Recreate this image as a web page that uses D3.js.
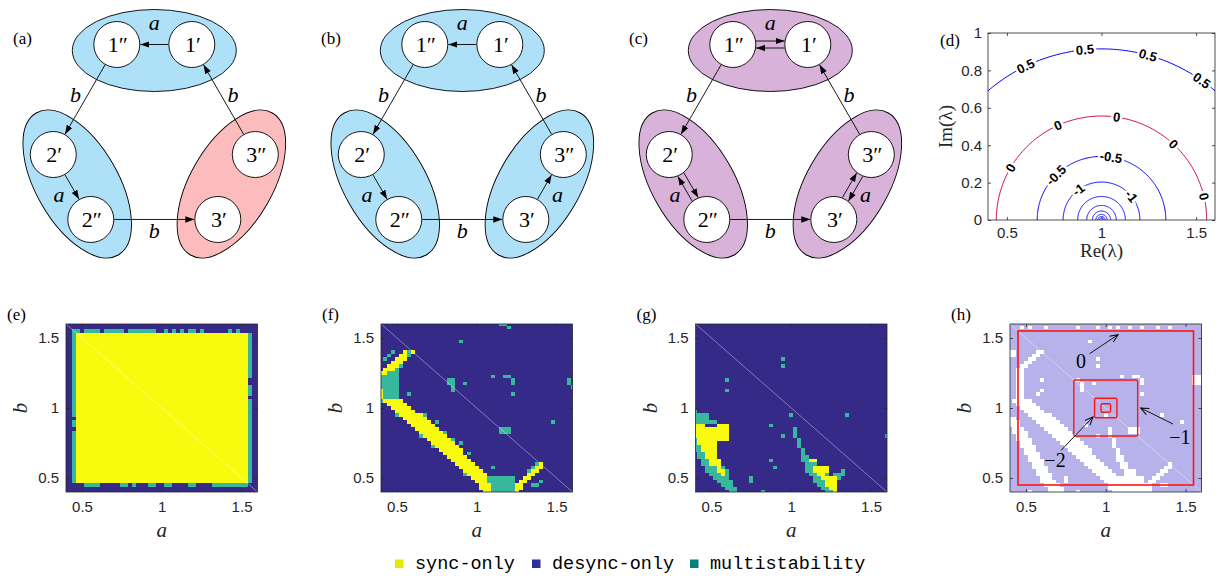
<!DOCTYPE html>
<html>
<head>
<meta charset="utf-8">
<script src="https://cdn.jsdelivr.net/npm/d3@7"></script>
<style>
  body { margin: 0; background: #fff; }
  svg { display: block; }
  .serif { font-family: "Liberation Serif", "Times New Roman", serif; }
  .tick text { font-family: "Liberation Sans", Arial, sans-serif; font-size: 15px; fill: #262626; }
  .tick line { stroke: #262626; stroke-width: 0.8; }
</style>
</head>
<body>
<svg id="fig" width="1219" height="576"></svg>
<script>
// ---------- data ----------
const panelLetters = ['(a)', '(b)', '(c)', '(d)', '(e)', '(f)', '(g)', '(h)'];

// network diagrams: cluster colours per panel (cluster 1 top, 2 lower-left, 3 lower-right)
const clusterFill = [
  ['#aee0f8', '#aee0f8', '#fcbcbd'],
  ['#aee0f8', '#aee0f8', '#aee0f8'],
  ['#d8b2d8', '#d8b2d8', '#d8b2d8']
];
const nodeIds    = ['1pp', '1p', '2pp', '2p', '3pp', '3p'];
const nodeLabels = ['1\u2033', '1\u2032', '2\u2033', '2\u2032', '3\u2033', '3\u2032'];
const nodeCluster = [0, 0, 1, 1, 2, 2];
const nodeSide    = [-1, 1, -1, 1, -1, 1];
const interLinks = [['1pp', '2p'], ['2pp', '3p'], ['3pp', '1p']];
const intraLinks = [
  [['1p', '1pp'], ['2p', '2pp']],
  [['1p', '1pp'], ['2p', '2pp'], ['3p', '3pp']],
  [['1pp', '1p'], ['1p', '1pp'], ['2pp', '2p'], ['2p', '2pp'], ['3pp', '3p'], ['3p', '3pp']]
];

// panel (d): contour levels and the radius of each (circles round lambda = 1)
const contourLevels = [0.5, 0, -0.5, -1, -1.5, -2, -2.5, -3, -3.5, -4];
const contourRadii  = [0.915, 0.556, 0.34, 0.203, 0.126, 0.078, 0.048, 0.03, 0.019, 0.011];
const contourLabelLevels = [0.5, 0.5, 0.5, 0.5, 0, 0, 0, 0, 0, -0.5, -0.5, -1, -1];
const contourLabelAngles = [116, 95.5, 74.4, 54.6, 149.9, 114.5, 81.7, 46.8, 13, 135, 81.5, 127, 38.7];
const dTicksX = [0.5, 1, 1.5];
const dTicksY = [0, 0.2, 0.4, 0.6, 0.8, 1];

// heat maps: grid a,b = 0.4 .. 1.6 step 0.025 ; block = [k0, k1, m0, m1, state]
// k = column (a = 0.4 + 0.025 k), m = row from top (b = 1.6 - 0.025 m)
const heatTicks = [0.5, 1, 1.5];
const eBlocks = [
  [2, 46, 2, 46, 'C'], [3, 45, 3, 45, 'Y'],
  [4, 4, 2, 2, 'D'], [9, 9, 2, 2, 'D'], [15, 15, 2, 2, 'D'], [23, 24, 2, 2, 'D'], [26, 26, 2, 2, 'D'],
  [28, 28, 2, 2, 'D'], [30, 30, 2, 2, 'D'], [33, 33, 2, 2, 'D'], [35, 40, 2, 2, 'D'], [42, 42, 2, 2, 'D'],
  [44, 46, 2, 2, 'D'],
  [2, 4, 46, 46, 'D'], [9, 13, 46, 46, 'D'], [16, 16, 46, 46, 'D'], [18, 20, 46, 46, 'D'], [23, 24, 46, 46, 'D'],
  [27, 30, 46, 46, 'D'], [33, 36, 46, 46, 'D'], [46, 46, 46, 46, 'D'],
  [2, 2, 27, 27, 'D'], [2, 2, 30, 30, 'D'],
  [46, 46, 16, 17, 'D'], [46, 46, 21, 21, 'D']
];
// main diagonal sync band of (f), rows [m, k0, k1]
const fStripe = [
  [22, 1, 5], [23, 2, 6], [24, 3, 7], [25, 4, 8], [26, 5, 10], [27, 6, 11], [28, 7, 12], [29, 8, 13],
  [30, 9, 14], [31, 10, 15], [32, 11, 16], [33, 12, 17], [34, 13, 18], [35, 14, 19], [36, 15, 20],
  [37, 16, 20], [38, 17, 21], [39, 18, 22], [40, 19, 23], [41, 20, 24], [42, 21, 25], [43, 22, 26],
  [44, 23, 26], [45, 24, 26], [46, 25, 27], [47, 25, 27], [48, 26, 27]
];
const fBlocks = [
  [30, 31, 0, 0, 'C'], [32, 32, 1, 1, 'C'], [20, 20, 5, 5, 'C'],
  [3, 3, 8, 8, 'C'], [6, 6, 8, 8, 'Y'], [7, 7, 8, 8, 'C'], [8, 8, 8, 8, 'Y'],
  [2, 2, 9, 9, 'C'], [5, 6, 9, 9, 'Y'], [7, 7, 9, 9, 'C'],
  [1, 1, 10, 10, 'C'], [4, 6, 10, 10, 'Y'],
  [3, 5, 11, 11, 'Y'],
  [2, 4, 12, 12, 'Y'], [5, 5, 12, 12, 'C'],
  [1, 3, 13, 13, 'Y'], [4, 4, 13, 13, 'C'],
  [0, 1, 14, 14, 'Y'], [2, 4, 14, 14, 'C'],
  [0, 4, 15, 18, 'C'], [0, 0, 19, 20, 'Y'], [1, 4, 19, 20, 'C'],
  [0, 0, 21, 21, 'Y'], [1, 4, 21, 21, 'C'], [0, 0, 22, 22, 'C'],
  [28, 28, 15, 15, 'C'], [31, 32, 15, 15, 'C'], [17, 18, 16, 17, 'C'], [21, 21, 17, 17, 'C'],
  [33, 33, 16, 17, 'C'], [47, 47, 16, 17, 'C'], [48, 48, 18, 18, 'C'], [18, 18, 18, 19, 'C'],
  [7, 7, 20, 20, 'C'], [33, 33, 20, 20, 'C'], [43, 43, 28, 28, 'C'], [30, 32, 30, 31, 'C'],
  [4, 4, 26, 26, 'C'], [11, 11, 26, 26, 'C'], [14, 14, 28, 28, 'C'], [16, 16, 31, 31, 'C'],
  [10, 10, 32, 32, 'C'], [18, 18, 33, 33, 'C'], [20, 20, 34, 34, 'C'], [13, 13, 35, 35, 'C'],
  [22, 22, 37, 37, 'C'], [21, 21, 43, 43, 'C'], [28, 28, 41, 41, 'C'],
  [27, 33, 44, 48, 'C'],
  [39, 39, 40, 40, 'C'], [40, 40, 40, 40, 'Y'], [38, 38, 41, 41, 'C'], [39, 40, 41, 41, 'Y'],
  [37, 37, 42, 42, 'C'], [38, 39, 42, 42, 'Y'], [37, 38, 43, 43, 'Y'], [36, 37, 44, 44, 'Y'],
  [35, 36, 45, 45, 'Y'], [40, 40, 45, 45, 'C'], [34, 35, 46, 46, 'Y'], [38, 39, 46, 46, 'C'],
  [34, 35, 47, 47, 'Y'], [34, 34, 48, 48, 'Y']
];
const gBlocks = [
  [22, 22, 10, 10, 'C'], [22, 22, 12, 12, 'C'], [8, 8, 16, 16, 'C'], [8, 8, 19, 19, 'C'],
  [24, 24, 26, 26, 'C'], [38, 38, 26, 26, 'C'], [19, 19, 29, 29, 'C'], [22, 22, 32, 32, 'C'],
  [48, 48, 32, 32, 'C'], [19, 19, 39, 39, 'C'], [20, 20, 41, 41, 'C'], [14, 14, 44, 45, 'C'],
  [17, 17, 48, 48, 'C'],
  [0, 0, 25, 25, 'C'], [0, 3, 26, 27, 'C'], [0, 5, 28, 28, 'C'],
  [0, 2, 29, 29, 'Y'], [6, 8, 29, 29, 'Y'], [0, 8, 30, 32, 'Y'],
  [0, 0, 33, 33, 'C'], [1, 8, 33, 33, 'Y'],
  [0, 0, 34, 34, 'C'], [1, 5, 34, 34, 'Y'],
  [0, 1, 35, 36, 'C'], [2, 5, 35, 36, 'Y'],
  [1, 2, 37, 38, 'C'], [3, 5, 37, 38, 'Y'],
  [2, 3, 39, 40, 'C'], [4, 6, 39, 40, 'Y'],
  [3, 5, 41, 41, 'C'], [6, 6, 41, 41, 'Y'], [7, 7, 41, 41, 'C'],
  [3, 5, 42, 42, 'C'], [6, 7, 42, 42, 'Y'], [8, 8, 42, 42, 'C'],
  [4, 6, 43, 43, 'C'], [7, 7, 43, 43, 'Y'], [8, 8, 43, 43, 'C'],
  [5, 8, 44, 44, 'C'], [6, 9, 45, 45, 'C'], [7, 9, 46, 46, 'C'], [8, 10, 47, 47, 'C'], [9, 10, 48, 48, 'C'],
  [25, 25, 30, 32, 'C'], [26, 26, 33, 35, 'C'], [27, 27, 36, 37, 'C'], [27, 28, 38, 38, 'C'],
  [27, 28, 39, 39, 'C'], [29, 30, 39, 39, 'Y'], [28, 30, 40, 40, 'C'],
  [28, 29, 41, 42, 'C'], [30, 33, 41, 42, 'Y'], [37, 37, 42, 43, 'C'],
  [29, 30, 43, 43, 'C'], [31, 32, 43, 43, 'Y'], [33, 33, 43, 43, 'C'], [35, 36, 43, 43, 'C'],
  [30, 31, 44, 44, 'C'], [32, 35, 44, 44, 'Y'], [36, 36, 44, 44, 'C'],
  [30, 32, 45, 45, 'C'], [33, 35, 45, 45, 'Y'],
  [31, 32, 46, 46, 'C'], [33, 35, 46, 46, 'Y'],
  [32, 33, 47, 47, 'C'], [34, 35, 47, 47, 'Y'],
  [33, 34, 48, 48, 'C'], [35, 35, 48, 48, 'Y']
];
// (h): white cells on lavender
const hLowerStripe = [
  [27, 0, 1], [28, 0, 2], [29, 0, 2], [30, 1, 3], [31, 1, 4], [32, 2, 4], [33, 2, 5], [34, 3, 5],
  [35, 3, 6], [36, 4, 6], [37, 4, 7], [38, 5, 7], [39, 5, 8], [40, 6, 8], [41, 6, 9], [42, 7, 9],
  [43, 7, 10], [44, 8, 10], [45, 8, 11], [46, 9, 12], [47, 10, 13], [48, 10, 13]
];
const hMiddleStripe = [
  [30, 25, 25], [31, 25, 25], [32, 25, 25], [33, 26, 26], [34, 26, 26], [35, 26, 26], [36, 27, 27],
  [37, 27, 27], [38, 27, 28], [39, 27, 28], [40, 28, 29], [41, 28, 29], [42, 29, 31], [43, 29, 31],
  [44, 30, 32], [45, 31, 33], [46, 32, 34], [47, 33, 35], [48, 34, 35]
];
const hBlocks = [
  [3, 3, 1, 1, 'W'], [5, 5, 1, 1, 'W'], [9, 9, 1, 1, 'W'], [17, 17, 1, 1, 'W'], [22, 22, 1, 1, 'W'],
  [25, 25, 1, 1, 'W'], [27, 27, 1, 1, 'W'], [30, 30, 1, 1, 'W'], [33, 33, 1, 1, 'W'], [37, 37, 1, 1, 'W'],
  [40, 40, 1, 1, 'W'],
  [20, 20, 5, 5, 'W'], [22, 22, 10, 10, 'W'], [22, 22, 12, 12, 'W'],
  [7, 8, 8, 8, 'W'], [6, 7, 9, 9, 'W'], [5, 6, 10, 10, 'W'], [4, 5, 11, 11, 'W'], [3, 4, 12, 12, 'W'],
  [2, 3, 13, 21, 'W'], [0, 1, 8, 9, 'W'],
  [8, 8, 16, 16, 'W'], [8, 8, 19, 19, 'W'], [7, 7, 20, 20, 'W'],
  [17, 17, 16, 16, 'W'], [18, 18, 17, 19, 'W'], [21, 21, 17, 17, 'W'], [28, 28, 15, 15, 'W'],
  [31, 32, 15, 15, 'W'], [33, 33, 16, 17, 'W'], [33, 33, 20, 20, 'W'], [46, 48, 15, 17, 'W'],
  [43, 43, 28, 28, 'W'], [30, 32, 30, 31, 'W'],
  [24, 24, 26, 26, 'W'], [38, 38, 26, 26, 'W'], [19, 19, 29, 29, 'W'], [22, 22, 32, 32, 'W'],
  [19, 19, 39, 39, 'W'], [20, 20, 41, 41, 'W'], [14, 14, 44, 45, 'W'],
  [27, 33, 44, 48, 'W'],
  [40, 40, 40, 40, 'W'], [39, 40, 41, 41, 'W'], [38, 39, 42, 42, 'W'], [37, 38, 43, 43, 'W'],
  [36, 37, 44, 44, 'W'], [35, 36, 45, 45, 'W'], [34, 35, 46, 48, 'W'], [38, 39, 46, 46, 'W'],
  [5, 5, 48, 48, 'W'], [17, 17, 48, 48, 'W']
];
const hBoxHalf = [0.55, 0.2, 0.07, 0.03];   // red squares round (1,1)
const hNoteText = ['0', '\u22121', '\u22122'];
const hNoteLabel = [[0.845, 1.336], [1.465, 0.793], [0.682, 0.629]];
const hNoteFrom  = [[0.899, 1.388], [1.421, 0.886], [0.721, 0.698]];
const hNoteTo    = [[1.077, 1.524], [1.219, 1.0], [0.92, 0.936]];

const legendNames  = ['sync-only', 'desync-only', 'multistability'];
const legendColors = ['#e8e800', '#2e2e9c', '#00827c'];

// ---------- layout ----------
const W = 1219, H = 576;
const svg = d3.select('#fig');
svg.append('rect').attr('width', W).attr('height', H).attr('fill', '#fff');

const defs = svg.append('defs');
defs.append('marker').attr('id', 'arr')
  .attr('viewBox', '0 -4 9 8').attr('refX', 9).attr('refY', 0)
  .attr('markerUnits', 'userSpaceOnUse').attr('markerWidth', 9).attr('markerHeight', 8)
  .attr('orient', 'auto')
  .append('path').attr('d', 'M0,-3.2L9,0L0,3.2Z').attr('fill', '#000');
defs.append('marker').attr('id', 'arrOpen')
  .attr('viewBox', '0 -5 10 10').attr('refX', 9).attr('refY', 0)
  .attr('markerUnits', 'userSpaceOnUse').attr('markerWidth', 10).attr('markerHeight', 10)
  .attr('orient', 'auto')
  .append('path').attr('d', 'M1,-3.5L9,0L1,3.5').attr('fill', 'none').attr('stroke', '#000').attr('stroke-width', 1);

// ---------- (a)-(c) network diagrams ----------
const diagShift = [0, 308, 616];
const diagC = [154.3, 139.5], diagR = 89;
const nodeR = 23, ellRx = 82, ellRy = 41, nodeAlong = 37.5, nodeOut = 6;
const clusterAngle = [0, 240, 120];

function clusterPoint(ci, lx, ly) {
  const phi = clusterAngle[ci] * Math.PI / 180;
  const cx = diagC[0] + diagR * Math.sin(phi), cy = diagC[1] - diagR * Math.cos(phi);
  return [cx + lx * Math.cos(phi) - ly * Math.sin(phi), cy + lx * Math.sin(phi) + ly * Math.cos(phi)];
}
const nodePos = {};
nodeIds.forEach((id, i) => { nodePos[id] = clusterPoint(nodeCluster[i], nodeSide[i] * nodeAlong, -nodeOut); });

function drawArrow(g, from, to, off) {
  const p = nodePos[from], q = nodePos[to];
  const len = Math.hypot(q[0] - p[0], q[1] - p[1]);
  const ux = (q[0] - p[0]) / len, uy = (q[1] - p[1]) / len;
  const px = uy * off, py = -ux * off;
  const cut = Math.sqrt(nodeR * nodeR - off * off) + 0.5;
  g.append('line')
    .attr('x1', p[0] + px + ux * cut).attr('y1', p[1] + py + uy * cut)
    .attr('x2', q[0] + px - ux * cut).attr('y2', q[1] + py - uy * cut)
    .attr('stroke', '#000').attr('stroke-width', 0.9)
    .attr('marker-end', 'url(#arr)');
}

diagShift.forEach((sx, pi) => {
  const g = svg.append('g').attr('transform', `translate(${sx},0)`);
  // clusters
  [0, 1, 2].forEach(ci => {
    const c = clusterPoint(ci, 0, 0);
    g.append('ellipse')
      .attr('transform', `translate(${c[0]},${c[1]}) rotate(${clusterAngle[ci]})`)
      .attr('rx', ellRx).attr('ry', ellRy)
      .attr('fill', clusterFill[pi][ci]).attr('stroke', '#000').attr('stroke-width', 0.9);
  });
  // links between clusters
  interLinks.forEach(l => drawArrow(g, l[0], l[1], 0));
  interLinks.forEach(l => {
    const p = nodePos[l[0]], q = nodePos[l[1]];
    const mx = (p[0] + q[0]) / 2, my = (p[1] + q[1]) / 2;
    const d = Math.hypot(mx - diagC[0], my - diagC[1]);
    g.append('text').attr('class', 'serif')
      .attr('x', mx + 11 * (mx - diagC[0]) / d).attr('y', my + 11 * (my - diagC[1]) / d)
      .attr('dy', '0.35em').attr('text-anchor', 'middle')
      .attr('font-style', 'italic').attr('font-size', 22).text('b');
  });
  // links inside clusters
  const bidir = intraLinks[pi].length > 3;
  const labelled = new Set();
  intraLinks[pi].forEach(l => {
    drawArrow(g, l[0], l[1], bidir ? 3.5 : 0);
    const ci = nodeCluster[nodeIds.indexOf(l[0])];
    if (!labelled.has(ci)) {
      labelled.add(ci);
      const lp = clusterPoint(ci, 0, ci === 0 ? -28 : -21);
      g.append('text').attr('class', 'serif')
        .attr('x', lp[0]).attr('y', lp[1]).attr('dy', '0.35em').attr('text-anchor', 'middle')
        .attr('font-style', 'italic').attr('font-size', 22).text('a');
    }
  });
  // nodes
  nodeIds.forEach((id, i) => {
    const p = nodePos[id];
    g.append('circle').attr('cx', p[0]).attr('cy', p[1]).attr('r', nodeR)
      .attr('fill', '#fff').attr('stroke', '#000').attr('stroke-width', 0.9);
    g.append('text').attr('class', 'serif')
      .attr('x', p[0] + 1).attr('y', p[1]).attr('dy', '0.35em').attr('text-anchor', 'middle')
      .attr('font-size', 22).text(nodeLabels[i]);
  });
  g.append('text').attr('class', 'serif').attr('x', 13).attr('y', 44)
    .attr('font-size', 17).text(panelLetters[pi]);
});

// ---------- (d) contour panel ----------
const dX = d3.scaleLinear().domain([0.4, 1.6]).range([988, 1215]);
const dY = d3.scaleLinear().domain([0, 1]).range([220, 33]);
defs.append('clipPath').attr('id', 'clipD').append('rect')
  .attr('x', dX(0.4)).attr('y', dY(1)).attr('width', dX(1.6) - dX(0.4)).attr('height', dY(0) - dY(1));
const dG = svg.append('g');
const dLines = dG.append('g').attr('clip-path', 'url(#clipD)');
const arc = d3.line().x(d => dX(d[0])).y(d => dY(d[1]));
contourLevels.forEach((lev, i) => {
  const r = contourRadii[i];
  const pts = d3.range(0, 181, 1).map(t => [1 + r * Math.cos(t * Math.PI / 180), r * Math.sin(t * Math.PI / 180)]);
  dLines.append('path').attr('d', arc(pts)).attr('fill', 'none')
    .attr('stroke', lev === 0 ? '#d0103c' : '#0000ff').attr('stroke-width', 1);
});
contourLabelLevels.forEach((lev, i) => {
  const r = contourRadii[contourLevels.indexOf(lev)];
  const t = contourLabelAngles[i] * Math.PI / 180;
  const x = dX(1 + r * Math.cos(t)), y = dY(r * Math.sin(t));
  dG.append('text')
    .attr('transform', `translate(${x},${y}) rotate(${90 - contourLabelAngles[i]})`)
    .attr('text-anchor', 'middle').attr('dy', '0.35em')
    .attr('font-family', 'Liberation Sans, Arial, sans-serif').attr('font-weight', 'bold')
    .attr('font-size', 13).attr('stroke', '#fff').attr('stroke-width', 5)
    .attr('paint-order', 'stroke').attr('fill', '#000')
    .text(String(lev));
});
dG.append('g').attr('transform', `translate(0,${dY(0)})`)
  .call(d3.axisBottom(dX).tickValues(dTicksX).tickSize(-3).tickPadding(7).tickFormat(d3.format('')))
  .call(a => a.select('.domain').remove());
dG.append('g').attr('transform', `translate(0,${dY(1)})`)
  .call(d3.axisTop(dX).tickValues(dTicksX).tickSize(-3).tickFormat(''))
  .call(a => a.select('.domain').remove());
dG.append('g').attr('transform', `translate(${dX(0.4)},0)`)
  .call(d3.axisLeft(dY).tickValues(dTicksY).tickSize(-3).tickPadding(6).tickFormat(d3.format('')))
  .call(a => a.select('.domain').remove());
dG.append('g').attr('transform', `translate(${dX(1.6)},0)`)
  .call(d3.axisRight(dY).tickValues(dTicksY).tickSize(-3).tickFormat(''))
  .call(a => a.select('.domain').remove());
dG.append('rect').attr('x', dX(0.4)).attr('y', dY(1))
  .attr('width', dX(1.6) - dX(0.4)).attr('height', dY(0) - dY(1))
  .attr('fill', 'none').attr('stroke', '#262626').attr('stroke-width', 0.8);
dG.append('text').attr('class', 'serif').attr('x', (dX(0.4) + dX(1.6)) / 2).attr('y', 257)
  .attr('text-anchor', 'middle').attr('font-size', 19).attr('fill', '#262626').text('Re(\u03bb)');
dG.append('text').attr('class', 'serif').attr('transform', `translate(952,${(dY(0) + dY(1)) / 2}) rotate(-90)`)
  .attr('text-anchor', 'middle').attr('font-size', 19).attr('fill', '#262626').text('Im(\u03bb)');
dG.append('text').attr('class', 'serif').attr('x', 940).attr('y', 46)
  .attr('font-size', 17).text(panelLetters[3]);

// ---------- (e)-(h) heat maps ----------
const hmLeft = [66, 381, 695.5, 1010], hmTop = 324, hmW = 191.5, hmH = 168;
const aMin = 0.4, aMax = 1.6, step = 0.025, half = step / 2;
const stateColor = { Y: '#f9fb0e', C: '#37b89d', D: '#352a87', W: '#ffffff', L: '#b7b3ea' };

function rowsToBlocks(rows, state) { return rows.map(r => [r[1], r[2], r[0], r[0], state]); }

function drawHeat(idx, bgState, blocks) {
  const x0 = hmLeft[idx];
  const xs = d3.scaleLinear().domain([aMin, aMax]).range([x0, x0 + hmW]);
  const ys = d3.scaleLinear().domain([aMin, aMax]).range([hmTop + hmH, hmTop]);
  const g = svg.append('g');
  const clipId = 'clipH' + idx;
  defs.append('clipPath').attr('id', clipId).append('rect')
    .attr('x', x0).attr('y', hmTop).attr('width', hmW).attr('height', hmH);
  const cells = g.append('g').attr('clip-path', `url(#${clipId})`).attr('shape-rendering', 'crispEdges');
  cells.append('rect').attr('x', x0).attr('y', hmTop).attr('width', hmW).attr('height', hmH)
    .attr('fill', stateColor[bgState]);
  cells.selectAll('rect.cell').data(blocks).join('rect').attr('class', 'cell')
    .attr('x', d => xs(aMin + step * d[0] - half))
    .attr('width', d => xs(aMin + step * d[1] + half) - xs(aMin + step * d[0] - half))
    .attr('y', d => ys(aMax - step * d[2] + half))
    .attr('height', d => ys(aMax - step * d[3] - half) - ys(aMax - step * d[2] + half))
    .attr('fill', d => stateColor[d[4]]);
  g.append('line').attr('clip-path', `url(#${clipId})`)
    .attr('x1', xs(aMin)).attr('y1', ys(aMax)).attr('x2', xs(aMax)).attr('y2', ys(aMin))
    .attr('stroke', '#fff').attr('stroke-opacity', 0.55).attr('stroke-width', 0.7);
  // axes, ticks pointing inwards on all sides
  g.append('g').attr('transform', `translate(0,${hmTop + hmH})`)
    .call(d3.axisBottom(xs).tickValues(heatTicks).tickSize(-3).tickPadding(9).tickFormat(d3.format('')))
    .call(a => a.select('.domain').remove());
  g.append('g').attr('transform', `translate(0,${hmTop})`)
    .call(d3.axisTop(xs).tickValues(heatTicks).tickSize(-3).tickFormat(''))
    .call(a => a.select('.domain').remove());
  g.append('g').attr('transform', `translate(${x0},0)`)
    .call(d3.axisLeft(ys).tickValues(heatTicks).tickSize(-3).tickPadding(7).tickFormat(d3.format('')))
    .call(a => a.select('.domain').remove());
  g.append('g').attr('transform', `translate(${x0 + hmW},0)`)
    .call(d3.axisRight(ys).tickValues(heatTicks).tickSize(-3).tickFormat(''))
    .call(a => a.select('.domain').remove());
  g.append('rect').attr('x', x0).attr('y', hmTop).attr('width', hmW).attr('height', hmH)
    .attr('fill', 'none').attr('stroke', '#262626').attr('stroke-width', 0.8);
  g.append('text').attr('class', 'serif').attr('x', x0 + hmW / 2).attr('y', 537)
    .attr('text-anchor', 'middle').attr('font-style', 'italic').attr('font-size', 21).attr('fill', '#262626').text('a');
  g.append('text').attr('class', 'serif').attr('transform', `translate(${x0 - 39},${hmTop + hmH / 2}) rotate(-90)`)
    .attr('text-anchor', 'middle').attr('font-style', 'italic').attr('font-size', 21).attr('fill', '#262626').text('b');
  g.append('text').attr('class', 'serif').attr('x', x0 - 59).attr('y', 320)
    .attr('font-size', 17).text(panelLetters[4 + idx]);
  return { g, xs, ys };
}

drawHeat(0, 'D', eBlocks);
drawHeat(1, 'D', fBlocks.concat(rowsToBlocks(fStripe, 'Y')));
drawHeat(2, 'D', gBlocks);
const hp = drawHeat(3, 'L', hBlocks
  .concat(rowsToBlocks(fStripe, 'W'))
  .concat(rowsToBlocks(hLowerStripe, 'W'))
  .concat(rowsToBlocks(hMiddleStripe, 'W')));

// red level squares and notes in (h)
hBoxHalf.forEach((h, i) => {
  hp.g.append('rect')
    .attr('x', hp.xs(1 - h)).attr('y', hp.ys(1 + h))
    .attr('width', hp.xs(1 + h) - hp.xs(1 - h)).attr('height', hp.ys(1 - h) - hp.ys(1 + h))
    .attr('rx', i === 0 ? 0 : 1.5)
    .attr('fill', 'none').attr('stroke', '#ff1414').attr('stroke-width', i === 0 ? 1.6 : 1.4);
});
hNoteText.forEach((t, i) => {
  hp.g.append('line')
    .attr('x1', hp.xs(hNoteFrom[i][0])).attr('y1', hp.ys(hNoteFrom[i][1]))
    .attr('x2', hp.xs(hNoteTo[i][0])).attr('y2', hp.ys(hNoteTo[i][1]))
    .attr('stroke', '#000').attr('stroke-width', 0.9).attr('marker-end', 'url(#arrOpen)');
  hp.g.append('text').attr('class', 'serif')
    .attr('x', hp.xs(hNoteLabel[i][0])).attr('y', hp.ys(hNoteLabel[i][1])).attr('dy', '0.35em')
    .attr('text-anchor', 'middle').attr('font-size', 20).attr('fill', '#000').text(t);
});

// ---------- legend ----------
const legendX = [415, 552, 710];
legendNames.forEach((name, i) => {
  svg.append('rect').attr('x', legendX[i] - 20).attr('y', 559.5).attr('width', 8.5).attr('height', 8.5)
    .attr('fill', legendColors[i]);
  svg.append('text').attr('x', legendX[i]).attr('y', 569)
    .attr('font-family', 'Liberation Mono, Courier New, monospace').attr('font-size', 18.5)
    .attr('fill', '#000').text(name);
});
</script>
</body>
</html>
